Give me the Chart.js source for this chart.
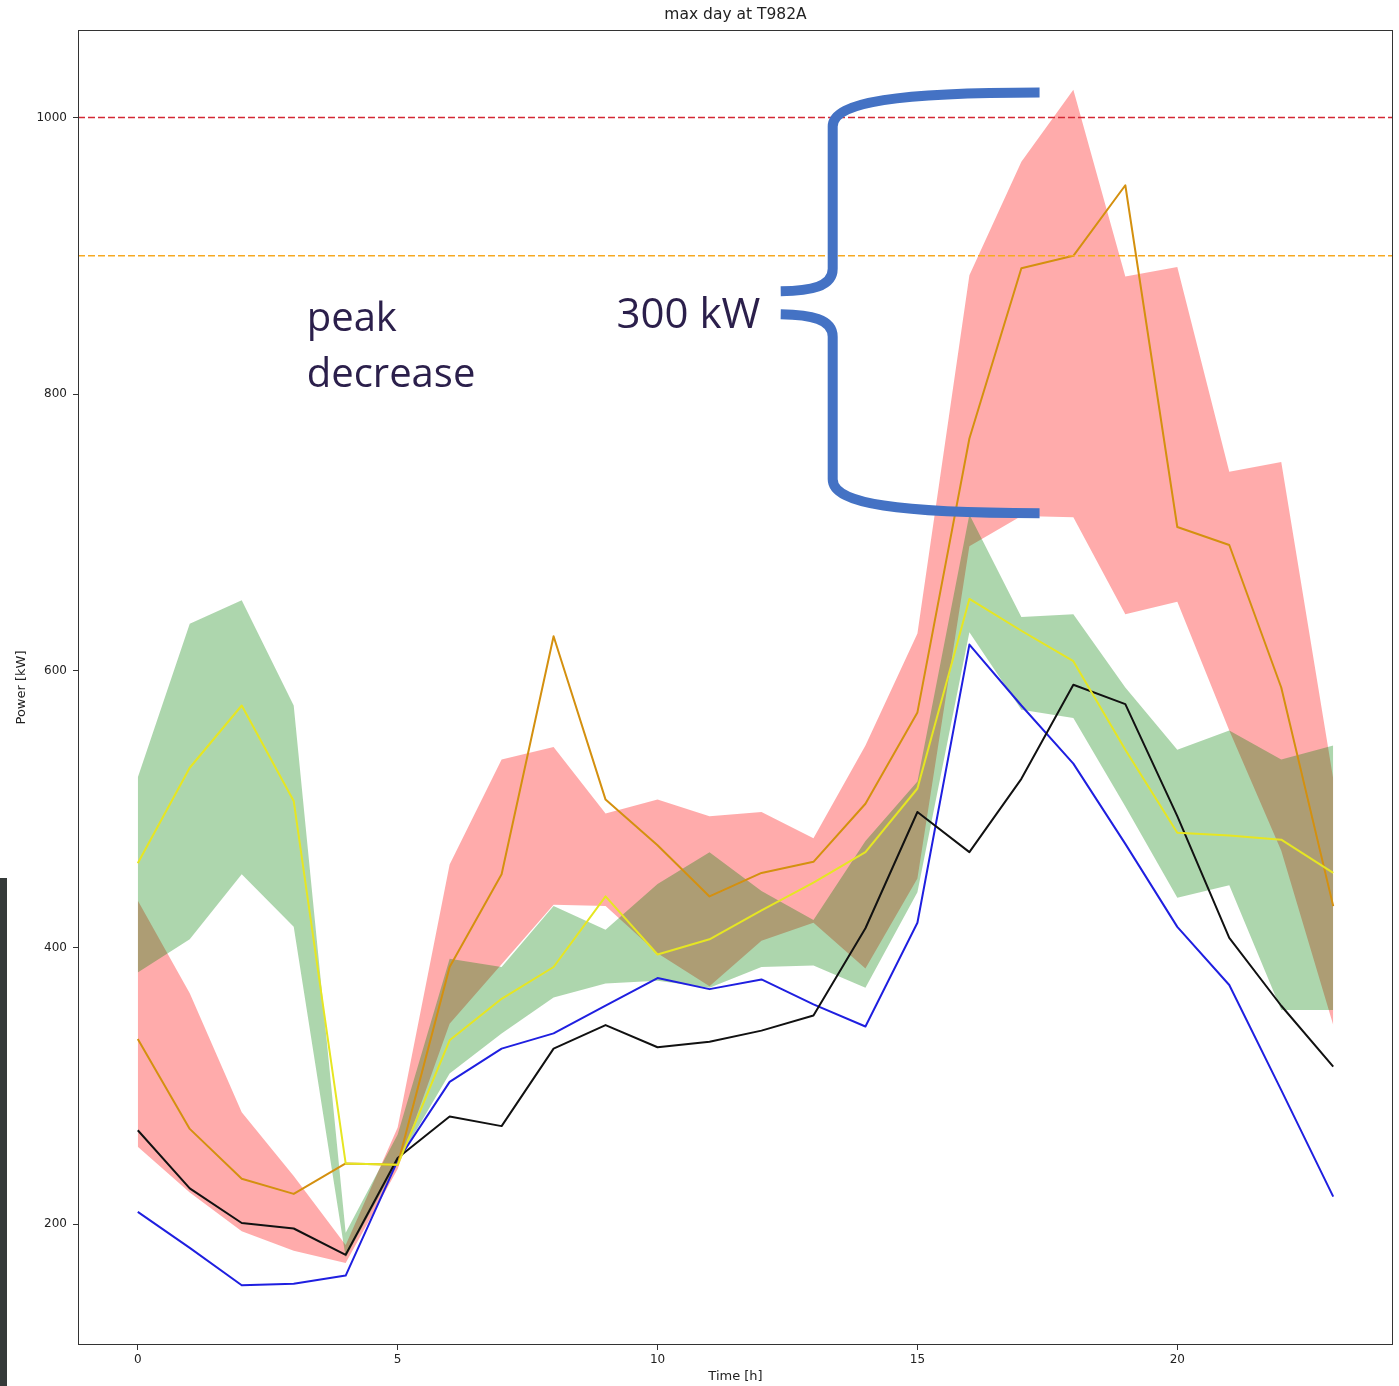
<!DOCTYPE html>
<html>
<head>
<meta charset="utf-8">
<title>max day at T982A</title>
<script src="https://cdn.jsdelivr.net/npm/chart.js@4.4.1/dist/chart.umd.min.js"></script>
<style>
  html, body { margin: 0; padding: 0; background: #ffffff; }
  #wrap { position: relative; width: 1399px; height: 1386px; overflow: hidden; }
  canvas { display: block; }
  #edge { position: absolute; left: 0; top: 878px; width: 7px; height: 508px; background: #353a39; }
</style>
</head>
<body>
<div id="wrap">
  <canvas id="chart" width="1399" height="1386"></canvas>
  <div id="edge"></div>
</div>
<script>
// Hour of day
const hours = [0, 1, 2, 3, 4, 5, 6, 7, 8, 9, 10, 11, 12, 13, 14, 15, 16, 17, 18, 19, 20, 21, 22, 23];

// Load profiles [kW]
const blueLoad   = [209, 183, 156, 157, 163, 246, 303, 327, 338, 358, 378, 370, 377, 359, 343, 418, 619, 575, 533, 475, 415, 373, 297, 220];
const blackLoad  = [268, 226, 201, 197, 178, 248, 278, 271, 327, 344, 328, 332, 340, 351, 414, 498, 469, 522, 590, 576, 495, 407, 358, 314];
const orangeLoad = [334, 269, 233, 222, 244, 243, 386, 453, 625, 507, 474, 437, 454, 462, 504, 570, 768, 891, 900, 951, 704, 691, 588, 430];
const yellowLoad = [461, 530, 575, 506, 244, 243, 333, 363, 386, 437, 395, 406, 427, 447, 469, 515, 652, 629, 607, 543, 483, 481, 478, 454];

// Spread bands [kW]
const redBandLow    = [256, 223, 195, 181, 172, 240, 345, 388, 431, 430, 396, 372, 405, 418, 385, 450, 690, 712, 711, 641, 650, 557, 470, 344];
const redBandHigh   = [434, 367, 281, 235, 185, 270, 460, 536, 545, 497, 507, 495, 498, 479, 546, 627, 886, 968, 1020, 885, 892, 744, 751, 522];
const greenBandLow  = [382, 406, 453, 415, 176, 245, 309, 338, 364, 374, 376, 371, 386, 387, 371, 440, 628, 572, 566, 502, 436, 445, 355, 355];
const greenBandHigh = [523, 634, 651, 575, 194, 265, 392, 386, 430, 413, 446, 469, 441, 420, 477, 520, 713, 639, 641, 588, 543, 557, 536, 546];

// Grid limits [kW]
const limitValues = [1000, 900];
const limitColors = ['#d42a35', '#f6aa22'];

// Axis ticks
const xTicks = [0, 5, 10, 15, 20];
const yTicks = [200, 400, 600, 800, 1000];

// Annotation: bracket spanning the peak reduction
const bracketKw = { top: 1018, mid: 866, bottom: 714 };
const bracketHour = { arms: 17.35, spine: 13.37, tip: 12.37 };
const notes = [
  { text: 'peak', hour: 3.25, kw: 845.5 },
  { text: 'decrease', hour: 3.25, kw: 805.5 },
  { text: '300 kW', hour: 9.21, kw: 847.5 }
];

const FONT = "'DejaVu Sans', sans-serif";
const toXY = arr => hours.map((h, i) => ({ x: h, y: arr[i] }));

const lineSet = (label, arr, color) => ({
  label, data: toXY(arr), borderColor: color, borderWidth: 2,
  borderJoinStyle: 'round', pointRadius: 0, fill: false, tension: 0
});
const bandSet = (label, arr, color, target) => ({
  label, data: toXY(arr), borderWidth: 0, borderColor: 'rgba(0,0,0,0)',
  backgroundColor: color, pointRadius: 0, tension: 0,
  fill: target === undefined ? false : target
});

const extras = {
  id: 'extras',
  afterDatasetsDraw(chart) {
    const { ctx, chartArea: a, scales: { y } } = chart;
    ctx.save();
    ctx.lineWidth = 1.6;
    ctx.setLineDash([7, 3]);
    limitValues.forEach((v, i) => {
      const py = y.getPixelForValue(v);
      ctx.strokeStyle = limitColors[i];
      ctx.beginPath();
      ctx.moveTo(a.left, py);
      ctx.lineTo(a.right, py);
      ctx.stroke();
    });
    ctx.restore();
  },
  afterDraw(chart) {
    const { ctx, chartArea: a, scales: { x, y } } = chart;
    ctx.save();
    // axes frame
    ctx.strokeStyle = '#333333';
    ctx.lineWidth = 1;
    ctx.strokeRect(a.left + 0.5, a.top + 0.5, a.right - a.left - 1, a.bottom - a.top - 1);

    // title and axis titles
    ctx.fillStyle = '#222222';
    ctx.textAlign = 'center';
    ctx.textBaseline = 'middle';
    ctx.font = '15.5px ' + FONT;
    ctx.fillText('max day at T982A', (a.left + a.right) / 2, 15);
    ctx.font = '13px ' + FONT;
    ctx.fillText('Time [h]', (a.left + a.right) / 2, 1377);
    ctx.save();
    ctx.translate(22, (a.top + a.bottom) / 2);
    ctx.rotate(-Math.PI / 2);
    ctx.fillText('Power [kW]', 0, 0);
    ctx.restore();

    // bracket
    const xe = x.getPixelForValue(bracketHour.arms);
    const xs = x.getPixelForValue(bracketHour.spine);
    const xt = x.getPixelForValue(bracketHour.tip);
    const yt = y.getPixelForValue(bracketKw.top);
    const ym = y.getPixelForValue(bracketKw.mid);
    const yb = y.getPixelForValue(bracketKw.bottom);
    ctx.strokeStyle = '#4472c4';
    ctx.lineWidth = 10;
    ctx.lineCap = 'butt';
    ctx.lineJoin = 'round';
    ctx.beginPath();
    ctx.moveTo(xe, yt);
    ctx.bezierCurveTo(xe - 140, yt, xs, yt + 9, xs, yt + 34);
    ctx.lineTo(xs, ym - 34);
    ctx.bezierCurveTo(xs, ym - 16, xs - 22, ym - 12, xt, ym - 11.5);
    ctx.stroke();
    ctx.beginPath();
    ctx.moveTo(xt, ym + 11.5);
    ctx.bezierCurveTo(xs - 22, ym + 12, xs, ym + 16, xs, ym + 34);
    ctx.lineTo(xs, yb - 34);
    ctx.bezierCurveTo(xs, yb - 9, xe - 140, yb, xe, yb);
    ctx.stroke();

    // notes
    ctx.fillStyle = '#2b1f4b';
    ctx.textAlign = 'left';
    ctx.textBaseline = 'alphabetic';
    notes.forEach(n => {
      ctx.font = (n.text === '300 kW' ? '42px' : '40px') + " 'Open Sans', sans-serif";
      ctx.fillText(n.text, x.getPixelForValue(n.hour), y.getPixelForValue(n.kw));
    });
    ctx.restore();
  }
};

new Chart(document.getElementById('chart'), {
  type: 'line',
  data: {
    datasets: [
      lineSet('yellow', yellowLoad, '#e6e622'),
      lineSet('orange', orangeLoad, '#d4900f'),
      lineSet('black', blackLoad, '#111111'),
      lineSet('blue', blueLoad, '#1f1fe0'),
      bandSet('green low', greenBandLow, 'rgba(0,128,0,0.32)'),
      bandSet('green high', greenBandHigh, 'rgba(0,128,0,0.32)', 4),
      bandSet('red low', redBandLow, 'rgba(255,0,0,0.33)'),
      bandSet('red high', redBandHigh, 'rgba(255,0,0,0.33)', 6)
    ]
  },
  options: {
    responsive: false,
    devicePixelRatio: 1,
    animation: false,
    events: [],
    layout: { padding: { top: 30, right: 6, left: 0, bottom: 0 } },
    plugins: {
      legend: { display: false },
      tooltip: { enabled: false },
      title: { display: false },
      filler: { propagate: false }
    },
    scales: {
      x: {
        type: 'linear',
        min: -1.15,
        max: 24.15,
        afterBuildTicks: s => { s.ticks = xTicks.map(v => ({ value: v })); },
        afterFit: s => { s.height = 41; },
        ticks: { autoSkip: false, maxRotation: 0, padding: 3, color: '#222222', font: { family: FONT, size: 12 }, callback: v => String(v) },
        grid: { drawOnChartArea: false, drawTicks: true, tickLength: 5, color: '#333333' },
        border: { display: false }
      },
      y: {
        type: 'linear',
        min: 112.8,
        max: 1063.2,
        afterBuildTicks: s => { s.ticks = yTicks.map(v => ({ value: v })); },
        afterFit: s => { s.width = 78; },
        ticks: { autoSkip: false, padding: 6, color: '#222222', font: { family: FONT, size: 12 }, callback: v => String(v) },
        grid: { drawOnChartArea: false, drawTicks: true, tickLength: 5, color: '#333333' },
        border: { display: false }
      }
    }
  },
  plugins: [extras]
});
</script>
</body>
</html>
